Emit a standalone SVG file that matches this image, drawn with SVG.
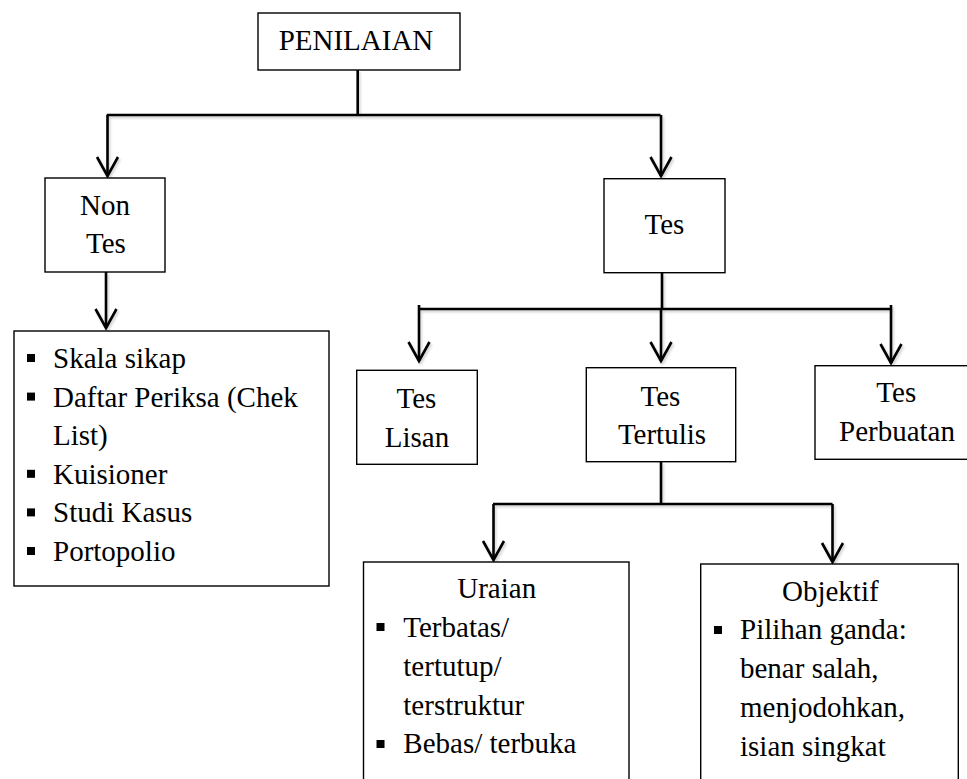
<svg xmlns="http://www.w3.org/2000/svg" width="967" height="779" viewBox="0 0 967 779" font-family="Liberation Serif, Times New Roman, Times, DejaVu Serif, serif">
<style>
  .box { fill: #fff; stroke: #000; stroke-width: 1.4; }
  .t { font-family: "Liberation Serif", "Times New Roman", Times, "DejaVu Serif", serif; font-size: 29px; fill: #000; }
  .c { text-anchor: middle; }
  .conn { fill: none; stroke: #000; stroke-width: 2.6; }
  .blt { fill: #000; }
</style>
<defs>
  <marker id="arrow" markerUnits="userSpaceOnUse" viewBox="-22 -13 25 26" markerWidth="25" markerHeight="26" refX="0" refY="0" orient="auto" overflow="visible">
    <path d="M -19 -10.5 L 0 0 L -19 10.5" fill="none" stroke="#000" stroke-width="2.6"/>
  </marker>
  <filter id="sh" x="-5%" y="-50%" width="110%" height="300%">
    <feDropShadow dx="1.5" dy="2" stdDeviation="1.2" flood-color="#000" flood-opacity="0.18"/>
  </filter>
</defs>
<rect width="967" height="779" fill="#fff"/>

<g id="connectors" filter="url(#sh)">
  <path class="conn" d="M357.7 70 V115"/>
  <path class="conn" d="M106.7 115 H660.5"/>
  <path class="conn" d="M107.5 115 V176" marker-end="url(#arrow)"/>
  <path class="conn" d="M661 115 V176" marker-end="url(#arrow)"/>
  <path class="conn" d="M106 272 V328" marker-end="url(#arrow)"/>
  <path class="conn" d="M662 273 V309"/>
  <path class="conn" d="M418.5 309 H891"/>
  <path class="conn" d="M419 305 V361" marker-end="url(#arrow)"/>
  <path class="conn" d="M661 309 V361" marker-end="url(#arrow)"/>
  <path class="conn" d="M891 305 V363" marker-end="url(#arrow)"/>
  <path class="conn" d="M661 462 V504"/>
  <path class="conn" d="M493 504 H832.5"/>
  <path class="conn" d="M493.5 504 V560" marker-end="url(#arrow)"/>
  <path class="conn" d="M832.5 504 V562" marker-end="url(#arrow)"/>
</g>

<g id="penilaian">
  <rect class="box" x="258" y="13" width="202" height="57"/>
  <text class="t c" x="356" y="50">PENILAIAN</text>
</g>

<g id="non-tes">
  <rect class="box" x="45" y="178" width="120" height="94"/>
  <text class="t c" x="105" y="215">Non</text>
  <text class="t c" x="106" y="253">Tes</text>
</g>

<g id="non-tes-list">
  <rect class="box" x="14" y="331" width="315" height="255"/>
  <rect class="blt" x="27" y="354" width="8" height="8"/>
  <text class="t" x="53" y="368">Skala sikap</text>
  <rect class="blt" x="27" y="392.6" width="8" height="8"/>
  <text class="t" x="53" y="406.6">Daftar Periksa (Chek</text>
  <text class="t" x="53" y="445.2">List)</text>
  <rect class="blt" x="27" y="469.8" width="8" height="8"/>
  <text class="t" x="53" y="483.8">Kuisioner</text>
  <rect class="blt" x="27" y="508.4" width="8" height="8"/>
  <text class="t" x="53" y="522.4">Studi Kasus</text>
  <rect class="blt" x="27" y="547" width="8" height="8"/>
  <text class="t" x="53" y="561">Portopolio</text>
</g>

<g id="tes">
  <rect class="box" x="604" y="178.7" width="121" height="94"/>
  <text class="t c" x="664.5" y="234">Tes</text>
</g>

<g id="tes-lisan">
  <rect class="box" x="356.7" y="370.3" width="120.6" height="94"/>
  <text class="t c" x="416.5" y="408.3">Tes</text>
  <text class="t c" x="417" y="446.7">Lisan</text>
</g>

<g id="tes-tertulis">
  <rect class="box" x="586.3" y="367.7" width="149.4" height="94"/>
  <text class="t c" x="660.5" y="405.7">Tes</text>
  <text class="t c" x="662" y="444">Tertulis</text>
</g>

<g id="tes-perbuatan">
  <rect class="box" x="815" y="365.7" width="165" height="93.6"/>
  <text class="t c" x="896.3" y="402.3">Tes</text>
  <text class="t c" x="897" y="441">Perbuatan</text>
</g>

<g id="uraian">
  <rect class="box" x="363.5" y="562" width="265.5" height="240"/>
  <text class="t c" x="496.7" y="598.3">Uraian</text>
  <rect class="blt" x="376.5" y="623" width="8" height="8"/>
  <text class="t" x="403.3" y="636.7">Terbatas/</text>
  <text class="t" x="403.3" y="676">tertutup/</text>
  <text class="t" x="403.3" y="715">terstruktur</text>
  <rect class="blt" x="376.5" y="740" width="8" height="8"/>
  <text class="t" x="403.3" y="753.3">Bebas/ terbuka</text>
</g>

<g id="objektif">
  <rect class="box" x="700.7" y="564" width="257.6" height="240"/>
  <text class="t c" x="830.3" y="601">Objektif</text>
  <rect class="blt" x="714" y="626" width="8" height="8"/>
  <text class="t" x="740" y="639.3">Pilihan ganda:</text>
  <text class="t" x="740" y="678.3">benar salah,</text>
  <text class="t" x="740" y="716.7">menjodohkan,</text>
  <text class="t" x="740" y="756">isian singkat</text>
</g>
</svg>
